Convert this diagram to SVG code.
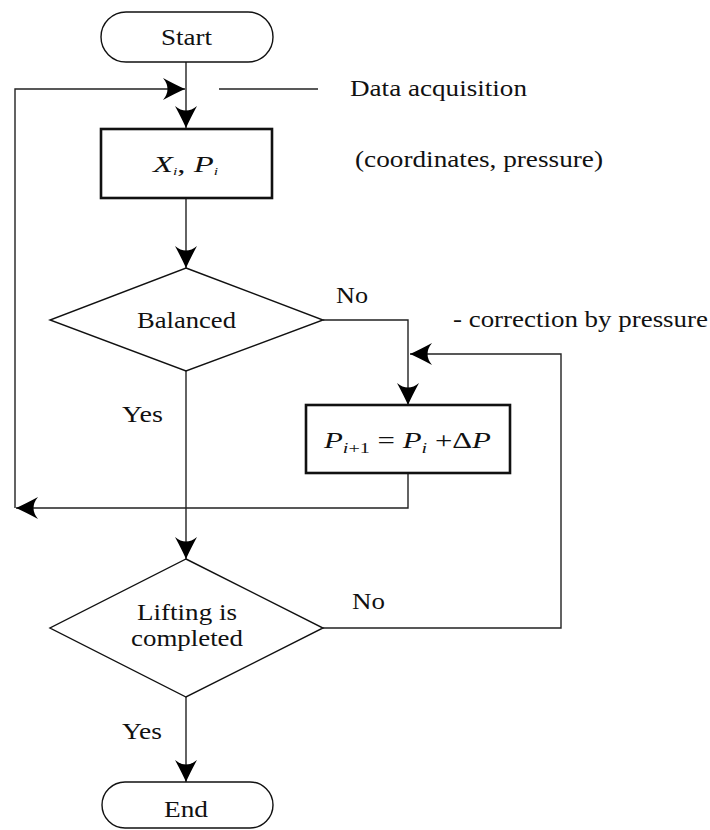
<svg xmlns="http://www.w3.org/2000/svg" width="710" height="830" viewBox="0 0 710 830">
<defs>
<style>
.c{fill:none;stroke:#222;stroke-width:1.4}
.n{fill:#fff;stroke:#111;stroke-width:1.4}
.b{fill:#fff;stroke:#111;stroke-width:2.6}
.i{font-style:italic}
</style>
<marker id="ah" viewBox="-23 -12 24 24" refX="0" refY="0" markerWidth="24" markerHeight="24" markerUnits="userSpaceOnUse" orient="auto">
<path d="M0,0 Q-9,-4 -22,-11 Q-13,0 -22,11 Q-9,4 0,0 Z" fill="#000"/>
</marker>
</defs>
<rect width="710" height="830" fill="#fff"/>
<g id="connectors">
<path class="c" d="M186,62 V128" marker-end="url(#ah)"/>
<path class="c" d="M15,508 V89 H185" marker-end="url(#ah)"/>
<path class="c" d="M219,89 H318"/>
<path class="c" d="M186,198 V268" marker-end="url(#ah)"/>
<path class="c" d="M323,320 H408 V405" marker-end="url(#ah)"/>
<path class="c" d="M186,371 V559" marker-end="url(#ah)"/>
<path class="c" d="M408,473 V508 H16" marker-end="url(#ah)"/>
<path class="c" d="M323,628 H561 V354 H410" marker-end="url(#ah)"/>
<path class="c" d="M186,697 V782" marker-end="url(#ah)"/>
</g>
<g font-family="Liberation Serif, Times New Roman, serif" font-size="23" fill="#111">
<g id="start">
<rect class="n" x="101" y="12" width="172" height="50" rx="25"/>
<text x="161" y="45" textLength="51" lengthAdjust="spacingAndGlyphs">Start</text>
</g>
<g id="data-label">
<text x="350" y="96" textLength="177" lengthAdjust="spacingAndGlyphs">Data acquisition</text>
</g>
<g id="input">
<rect class="b" x="101" y="129" width="171" height="69"/>
<text class="i" x="153" y="172" textLength="65" lengthAdjust="spacingAndGlyphs">X<tspan font-size="11" dy="3">i</tspan><tspan dy="-3" font-style="normal">, </tspan>P<tspan font-size="11" dy="3">i</tspan></text>
</g>
<g id="coord-label">
<text x="355" y="167" textLength="248" lengthAdjust="spacingAndGlyphs">(coordinates, pressure)</text>
</g>
<g id="balanced">
<polygon class="n" points="186,268 323,320 186,371 50,320"/>
<text x="137" y="328" textLength="99" lengthAdjust="spacingAndGlyphs">Balanced</text>
</g>
<g id="no1"><text x="336" y="303" textLength="32" lengthAdjust="spacingAndGlyphs">No</text></g>
<g id="corr-label"><text x="453" y="327" textLength="255" lengthAdjust="spacingAndGlyphs">- correction by pressure</text></g>
<g id="yes1"><text x="122" y="422" textLength="41" lengthAdjust="spacingAndGlyphs">Yes</text></g>
<g id="correction">
<rect class="b" x="306" y="405" width="204" height="68"/>
<text x="324" y="448" textLength="167" lengthAdjust="spacingAndGlyphs"><tspan class="i">P</tspan><tspan class="i" font-size="15" dy="5">i</tspan><tspan font-size="15">+1</tspan><tspan dy="-5"> = </tspan><tspan class="i">P</tspan><tspan class="i" font-size="15" dy="5">i</tspan><tspan dy="-5"> +Δ</tspan><tspan class="i">P</tspan></text>
</g>
<g id="lifting">
<polygon class="n" points="186,559 323,628 186,697 50,628"/>
<text x="137" y="620" textLength="100" lengthAdjust="spacingAndGlyphs">Lifting is</text>
<text x="131" y="646" textLength="112" lengthAdjust="spacingAndGlyphs">completed</text>
</g>
<g id="no2"><text x="352" y="609" textLength="33" lengthAdjust="spacingAndGlyphs">No</text></g>
<g id="yes2"><text x="122" y="739" textLength="40" lengthAdjust="spacingAndGlyphs">Yes</text></g>
<g id="end">
<rect class="n" x="102" y="782" width="171" height="46" rx="23"/>
<text x="164" y="817" textLength="44" lengthAdjust="spacingAndGlyphs">End</text>
</g>
</g>
</svg>
